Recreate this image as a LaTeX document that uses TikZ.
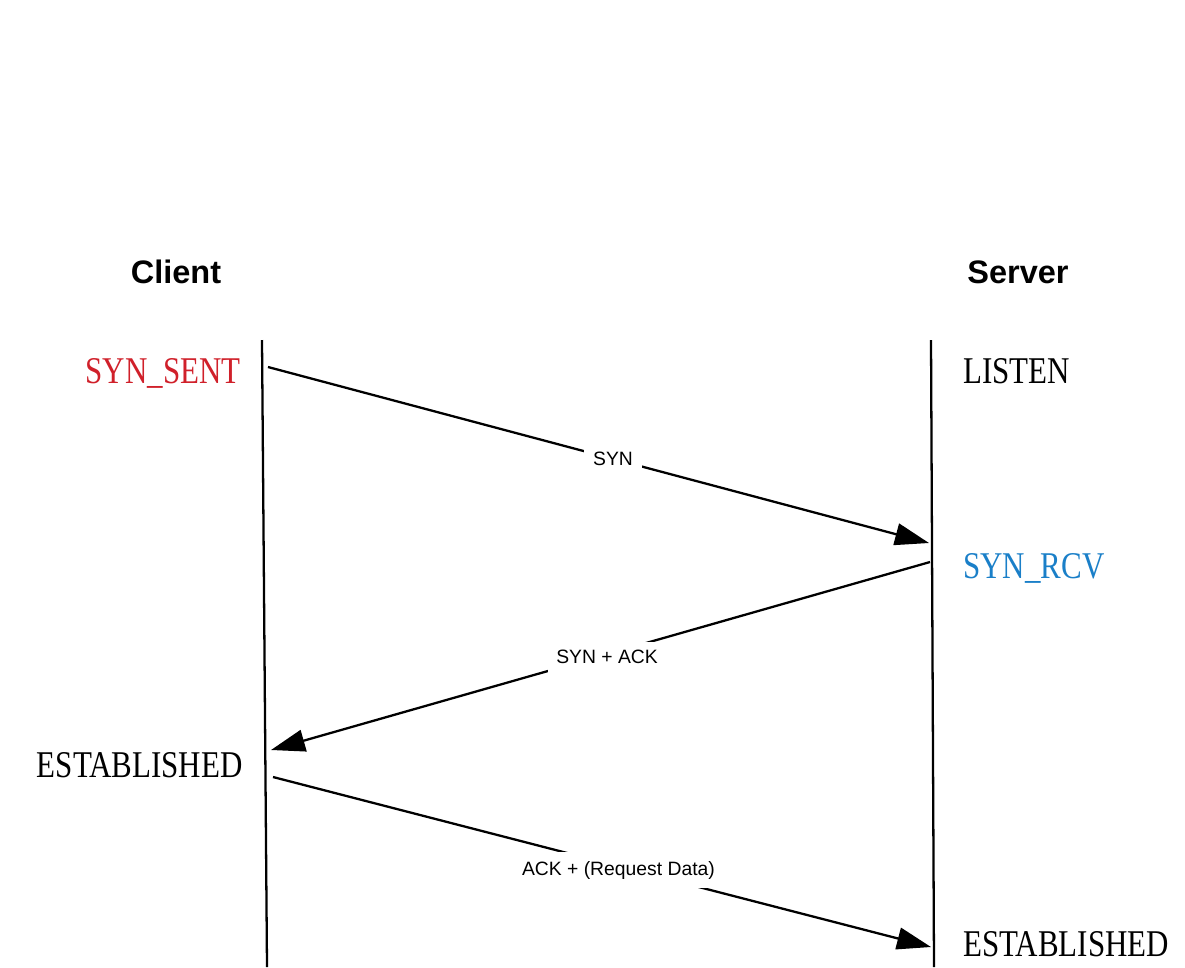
\documentclass[tikz,border=0pt]{standalone}
\usepackage{fontspec}
\setmainfont{Liberation Sans}
\newfontfamily\statefont[FakeStretch=0.82]{Liberation Serif}
\usetikzlibrary{arrows.meta}
\definecolor{synred}{HTML}{D0202A}
\definecolor{rcvblue}{HTML}{1A7FC8}
\tikzset{
  party/.style={font=\fontsize{18.5}{20}\selectfont\bfseries},
  state/.style={font=\statefont\fontsize{21.5}{24}\selectfont, inner sep=0pt},
  msg/.style={font=\fontsize{11}{12}\selectfont, fill=white, inner sep=5pt},
  pkt/.style={line width=1.3pt, -{Triangle[length=0.68cm,width=0.44cm]}}
}

\begin{document}
\begin{tikzpicture}[x=0.02cm,y=-0.02cm]
\useasboundingbox (0,0) rectangle (1185,967);

\node[party] (client) at (176,272) {Client};
\node[party] (server) at (1018,272) {Server};

% lifelines
\coordinate (ctop) at (262,340);
\coordinate (cbot) at (267,967);
\coordinate (stop) at (931,340);
\coordinate (sbot) at (934,967);
\draw[line width=1.3pt] (ctop) -- (cbot);
\draw[line width=1.3pt] (stop) -- (sbot);

% states
\node[state, text=synred, anchor=base east] (sent) at (241,383) {SYN\_SENT};
\node[state, anchor=base west] (listen) at (963,383) {LISTEN};
\node[state, text=rcvblue, anchor=base west] (rcv) at (963,578) {SYN\_RCV};
\node[state, anchor=base east] (cest) at (243,777) {ESTABLISHED};
\node[state, anchor=base west] (sest) at (963,956) {ESTABLISHED};

% messages
\coordinate (a1) at (268,367);
\coordinate (b1) at (929,543);
\coordinate (a2) at (930,562);
\coordinate (b2) at (271,750);
\coordinate (a3) at (273,777);
\coordinate (b3) at (931,947);
\draw[pkt] (a1) -- node[msg, pos=0.522] {SYN} (b1);
\draw[pkt] (a2) -- node[msg, pos=0.49, yshift=-0.06cm] {SYN + ACK} (b2);
\draw[pkt] (a3) -- node[msg, pos=0.525, yshift=-0.08cm] {ACK + (Request Data)} (b3);
\end{tikzpicture}
\end{document}
